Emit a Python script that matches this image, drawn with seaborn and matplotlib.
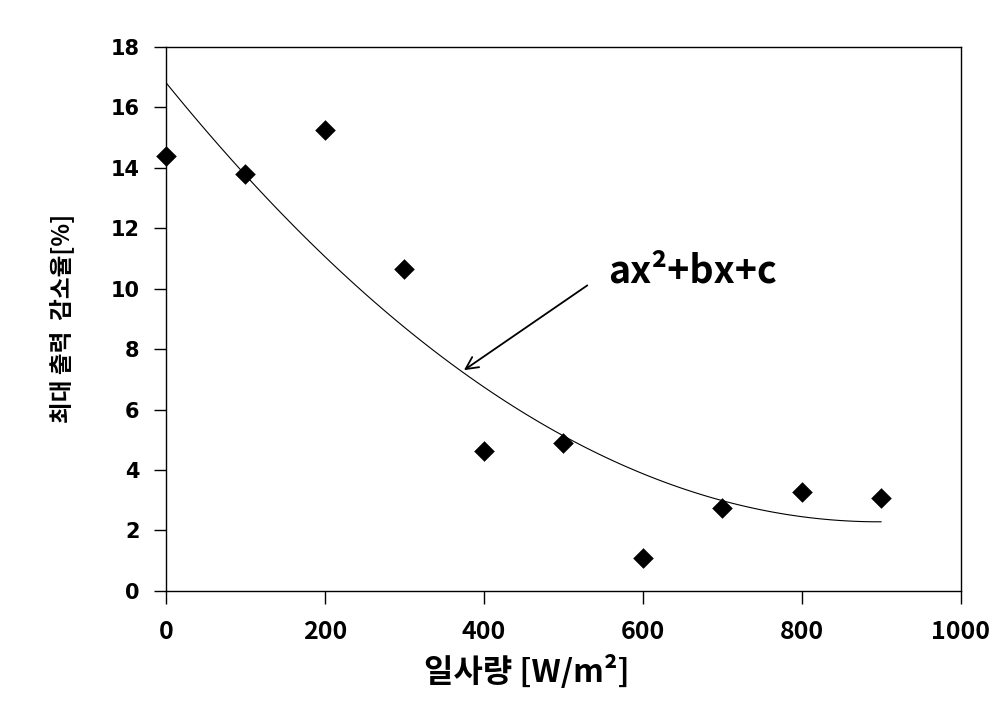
import numpy as np
import pandas as pd
import matplotlib
matplotlib.use("Agg")
import matplotlib.pyplot as plt
import seaborn as sns

# Data
irradiance = [0, 100, 200, 300, 400, 500, 600, 700, 800, 900]
reduction = [14.4, 13.8, 15.25, 10.65, 4.63, 4.9, 1.09, 2.75, 3.28, 3.08]
x_ticks = [0, 200, 400, 600, 800, 1000]
y_ticks = [0, 2, 4, 6, 8, 10, 12, 14, 16, 18]
x_label = "일사량 [W/m²]"
y_label = "최대 출력  감소율[%]"
annot_text = "ax²+bx+c"

sns.set_theme(style="white")
plt.rcParams['font.family'] = ['Noto Sans CJK KR', 'DejaVu Sans']
for k in ["text.color", "axes.labelcolor", "xtick.color", "ytick.color", "axes.edgecolor"]:
    plt.rcParams[k] = "black"

df = pd.DataFrame({"x": irradiance, "y": reduction})

fig = plt.figure(figsize=(10.06, 7.11), dpi=100)
ax = fig.add_axes([0.165, 0.169, 0.790, 0.765])

sns.regplot(data=df, x="x", y="y", order=2, ci=None, truncate=True,
            scatter=False, ax=ax, line_kws=dict(color="black", lw=0.8))
sns.scatterplot(data=df, x="x", y="y", marker="D", s=110, color="black",
                edgecolor="black", linewidth=0, ax=ax, zorder=3, clip_on=False)

ax.set_xlim(0, 1000)
ax.set_ylim(0, 18)
ax.set_xticks(x_ticks)
ax.set_yticks(y_ticks)
ax.set_xticklabels([str(v) for v in x_ticks], fontsize=18, fontweight="bold",
                   family=["Noto Sans CJK KR", "DejaVu Sans"])
ax.set_yticklabels([str(v) for v in y_ticks], fontsize=15, fontweight="bold",
                   family=["DejaVu Sans"])
ax.tick_params(axis="both", direction="out", length=9, width=1, color="black",
               bottom=True, left=True)
ax.tick_params(axis="x", pad=12)
ax.tick_params(axis="y", pad=10)

for sp in ax.spines.values():
    sp.set_visible(True)
    sp.set_color("black")
    sp.set_linewidth(1.0)

ax.set_xlabel(x_label, fontsize=23, fontweight="bold")
ax.xaxis.set_label_coords(0.454, -0.118)
ax.set_ylabel(y_label, fontsize=17, fontweight="bold", labelpad=26)
ax.grid(False)

ax.annotate("", xy=(372, 7.25), xytext=(533, 10.16),
            arrowprops=dict(arrowstyle="->", color="black", lw=1.3,
                            mutation_scale=22))
ax.text(556, 10.6, annot_text, fontsize=27, fontweight="bold", va="center",
        ha="left")

fig.savefig("out.png", dpi=100)
